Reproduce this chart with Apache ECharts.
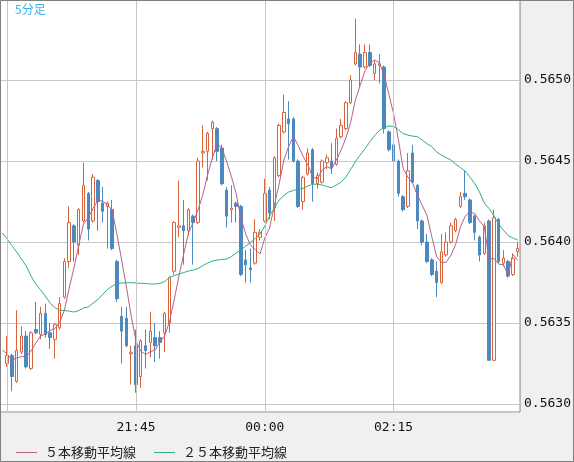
<!DOCTYPE html>
<html><head><meta charset="utf-8">
<script src="https://cdn.jsdelivr.net/npm/echarts@6/dist/echarts.min.js"></script>
<style>html,body{margin:0;padding:0;background:#f0f0f0}#c{width:574px;height:462px}</style>
</head><body><div id="c"></div>
<script>
// ---- categories (5-minute bars starting 19:25) ----
const startMinutes = 19 * 60 + 25;
const barCount = 109;
const times = [];
for (let i = 0; i < barCount; i++) {
  const m = (startMinutes + i * 5) % 1440;
  times.push(String(Math.floor(m / 60)).padStart(2, '0') + ':' + String(m % 60).padStart(2, '0'));
}
const xLabels = ['21:45', '00:00', '02:15'];
const xGridTimes = ['19:30', '21:45', '00:00', '02:15'];
const yTicks = [0.5630, 0.5635, 0.5640, 0.5645, 0.5650];

// ---- candle values (index 0 has no visible candle) ----
const opens = [null,
0.56325,0.56330,0.56314,0.56332,0.56342,0.56322,0.56346,0.56343,0.56356,0.56344,
0.56340,0.56347,0.56366,0.56388,0.56410,0.56398,0.56413,0.56430,0.56413,0.56438,
0.56424,0.56422,0.56420,0.56388,0.56354,0.56353,0.56331,0.56336,0.56317,0.56336,
0.56338,0.56341,0.56341,0.56344,0.56350,0.56382,0.56409,0.56410,0.56407,0.56416,
0.56412,0.56455,0.56456,0.56470,0.56470,0.56458,0.56432,0.56420,0.56424,0.56422,
0.56389,0.56384,0.56387,0.56403,0.56413,0.56432,0.56421,0.56441,0.56468,0.56476,
0.56476,0.56450,0.56425,0.56442,0.56457,0.56436,0.56437,0.56449,0.56450,0.56448,
0.56465,0.56470,0.56486,0.56510,0.56516,0.56508,0.56517,0.56504,0.56509,0.56508,
0.56468,0.56460,0.56450,0.56428,0.56422,0.56455,0.56435,0.56413,0.56400,0.56389,
0.56382,0.56375,0.56392,0.56400,0.56407,0.56422,0.56430,0.56426,0.56416,0.56403,
0.56393,0.56413,0.56327,0.56414,0.56387,0.56388,0.56380,0.56394];
const closes = [null,
0.56330,0.56317,0.56333,0.56342,0.56323,0.56344,0.56344,0.56356,0.56343,0.56341,
0.56349,0.56362,0.56388,0.56412,0.56400,0.56420,0.56435,0.56408,0.56440,0.56425,
0.56419,0.56424,0.56396,0.56365,0.56345,0.56336,0.56332,0.56312,0.56339,0.56333,
0.56345,0.56336,0.56338,0.56356,0.56378,0.56412,0.56410,0.56407,0.56420,0.56412,
0.56450,0.56456,0.56467,0.56474,0.56456,0.56436,0.56416,0.56421,0.56422,0.56380,
0.56386,0.56383,0.56406,0.56406,0.56430,0.56418,0.56452,0.56472,0.56480,0.56473,
0.56450,0.56422,0.56440,0.56455,0.56436,0.56441,0.56450,0.56452,0.56446,0.56464,
0.56472,0.56486,0.56500,0.56517,0.56508,0.56517,0.56509,0.56510,0.56510,0.56470,
0.56457,0.56450,0.56430,0.56420,0.56444,0.56437,0.56413,0.56400,0.56388,0.56380,
0.56375,0.56394,0.56400,0.56410,0.56414,0.56428,0.56428,0.56412,0.56406,0.56392,
0.56410,0.56327,0.56415,0.56388,0.56390,0.56379,0.56390,0.56396];
const lows = [null,
0.56323,0.56308,0.56313,0.56331,0.56322,0.56321,0.56343,0.56340,0.56341,0.56334,
0.56328,0.56346,0.56365,0.56384,0.56388,0.56392,0.56412,0.56401,0.56412,0.56407,
0.56412,0.56396,0.56395,0.56363,0.56325,0.56335,0.56312,0.56307,0.56310,0.56322,
0.56329,0.56326,0.56328,0.56332,0.56344,0.56380,0.56403,0.56386,0.56404,0.56386,
0.56411,0.56446,0.56438,0.56451,0.56450,0.56435,0.56409,0.56412,0.56412,0.56379,
0.56375,0.56375,0.56386,0.56401,0.56412,0.56414,0.56413,0.56440,0.56467,0.56451,
0.56449,0.56421,0.56420,0.56441,0.56425,0.56433,0.56436,0.56445,0.56442,0.56447,
0.56464,0.56469,0.56485,0.56509,0.56496,0.56507,0.56508,0.56500,0.56498,0.56467,
0.56456,0.56449,0.56428,0.56419,0.56421,0.56436,0.56408,0.56398,0.56387,0.56379,
0.56366,0.56374,0.56391,0.56399,0.56406,0.56421,0.56426,0.56411,0.56401,0.56388,
0.56392,0.56327,0.56327,0.56387,0.56385,0.56378,0.56379,0.56391];
const highs = [null,
0.56342,0.56331,0.56358,0.56348,0.56345,0.56345,0.56363,0.56360,0.56362,0.56350,
0.56350,0.56366,0.56390,0.56422,0.56411,0.56421,0.56449,0.56431,0.56442,0.56439,
0.56434,0.56425,0.56426,0.56389,0.56360,0.56360,0.56336,0.56346,0.56340,0.56346,
0.56357,0.56350,0.56345,0.56357,0.56379,0.56413,0.56438,0.56426,0.56421,0.56417,
0.56452,0.56472,0.56468,0.56475,0.56471,0.56460,0.56434,0.56435,0.56425,0.56423,
0.56395,0.56396,0.56414,0.56408,0.56439,0.56434,0.56453,0.56473,0.56491,0.56487,
0.56477,0.56451,0.56441,0.56458,0.56458,0.56443,0.56451,0.56454,0.56461,0.56470,
0.56476,0.56487,0.56503,0.56538,0.56522,0.56522,0.56522,0.56512,0.56516,0.56509,
0.56469,0.56461,0.56451,0.56429,0.56455,0.56460,0.56436,0.56414,0.56405,0.56390,
0.56388,0.56405,0.56406,0.56412,0.56415,0.56431,0.56444,0.56427,0.56417,0.56404,
0.56412,0.56414,0.56420,0.56415,0.56395,0.56389,0.56393,0.56400];

// ---- moving averages ----
const ma5 = [
0.563333,0.563309,0.563272,0.563284,0.563293,0.563293,0.563327,0.563377,0.563420,0.563432,
0.563454,0.563466,0.563503,0.563580,0.563716,0.563840,0.563981,0.564111,0.564151,0.564207,
0.564256,0.564253,0.564231,0.564198,0.564049,0.563889,0.563722,0.563543,0.563389,0.563327,
0.563306,0.563323,0.563333,0.563383,0.563420,0.563506,0.563642,0.563790,0.563926,0.564056,
0.564123,0.564198,0.564290,0.564414,0.564519,0.564605,0.564580,0.564497,0.564404,0.564299,
0.564148,0.564049,0.563981,0.563954,0.563926,0.564025,0.564086,0.564225,0.564358,0.564506,
0.564590,0.564651,0.564596,0.564531,0.564478,0.564404,0.564389,0.564444,0.564466,0.564451,
0.564506,0.564568,0.564642,0.564738,0.564879,0.564967,0.565057,0.565103,0.565123,0.565108,
0.565033,0.564912,0.564792,0.564633,0.564454,0.564401,0.564362,0.564288,0.564227,0.564163,
0.564033,0.563911,0.563874,0.563875,0.563918,0.563986,0.564092,0.564160,0.564185,0.564176,
0.564131,0.564095,0.563894,0.563899,0.563864,0.563860,0.563798,0.563924,0.563888];
const ma25 = [
0.564056,0.564019,0.563978,0.563938,0.563895,0.563852,0.563790,0.563741,0.563704,0.563667,
0.563623,0.563596,0.563580,0.563577,0.563574,0.563568,0.563577,0.563593,0.563599,0.563623,
0.563645,0.563676,0.563707,0.563728,0.563744,0.563747,0.563749,0.563749,0.563747,0.563745,
0.563744,0.563741,0.563741,0.563744,0.563756,0.563781,0.563793,0.563802,0.563812,0.563821,
0.563827,0.563836,0.563855,0.563870,0.563883,0.563889,0.563893,0.563895,0.563910,0.563932,
0.563951,0.563975,0.563997,0.564022,0.564049,0.564099,0.564160,0.564210,0.564259,0.564287,
0.564309,0.564318,0.564327,0.564331,0.564346,0.564356,0.564358,0.564352,0.564343,0.564335,
0.564352,0.564370,0.564401,0.564448,0.564497,0.564537,0.564577,0.564617,0.564657,0.564688,
0.564707,0.564716,0.564713,0.564694,0.564670,0.564660,0.564654,0.564650,0.564630,0.564607,
0.564590,0.564556,0.564537,0.564522,0.564506,0.564481,0.564460,0.564438,0.564401,0.564361,
0.564309,0.564241,0.564207,0.564164,0.564111,0.564074,0.564040,0.564025,0.564012];

const yMin = 0.562951;
const yMax = 0.565494;

const candleData = opens.map((o, i) => o === null ? ['-', '-', '-', '-'] : [o, closes[i], lows[i], highs[i]]);

const chart = echarts.init(document.getElementById('c'), null, { renderer: 'canvas' });
const mono = 'DejaVu Sans Mono';
const cjk = '"Noto Sans CJK JP", "Noto Sans", sans-serif';
chart.setOption({
  animation: false,
  backgroundColor: '#f0f0f0',
  title: {
    text: '5分足', left: 15, top: 3, padding: 0,
    textStyle: { color: '#35b4ee', fontSize: 12, fontWeight: 'normal', fontFamily: cjk }
  },
  legend: {
    left: 16, top: 446, padding: 0, itemWidth: 21, itemHeight: 1, itemGap: 18, icon: 'rect',
    textStyle: { fontSize: 13, color: '#222', fontFamily: cjk, padding: [0, 0, 0, 3] },
    data: ['５本移動平均線', '２５本移動平均線']
  },
  grid: { left: 0, top: 0, width: 522, height: 412, show: true, backgroundColor: '#ffffff', borderColor: '#858585', borderWidth: 1 },
  xAxis: {
    type: 'category', data: times, boundaryGap: true,
    axisLine: { show: false }, axisTick: { show: false }, splitLine: { show: false },
    axisLabel: { interval: (i, v) => xLabels.includes(v), margin: 9, color: '#111', fontFamily: mono, fontSize: 13 }
  },
  yAxis: {
    type: 'value', position: 'right', min: yMin, max: yMax, splitNumber: 5,
    axisLine: { show: false }, axisTick: { show: false },
    splitLine: { show: true, lineStyle: { color: '#c8c8c8', width: 1 } },
    axisLabel: {
      show: true, margin: 4, color: '#111', fontFamily: mono, fontSize: 13,
      showMinLabel: false, showMaxLabel: false,
      formatter: v => (yTicks.some(t => Math.abs(t - v) < 1e-7) ? v.toFixed(4) : '')
    }
  },
  graphic: [{
    type: 'rect', x: 0, y: 0, silent: true, z: 100,
    shape: { x: 0.5, y: 0.5, width: 573, height: 461 },
    style: { fill: 'none', stroke: '#808080', lineWidth: 1 }
  }],
  series: [
    {
      type: 'line', name: 'grid', data: ma25, z: 1, silent: true, symbol: 'none',
      lineStyle: { opacity: 0 },
      markLine: {
        silent: true, symbol: ['none', 'none'], animation: false,
        lineStyle: { color: '#c8c8c8', type: 'solid', width: 1 },
        label: { show: false },
        data: xGridTimes.map(t => ({ xAxis: t }))
      }
    },
    {
      type: 'candlestick', name: 'candle', data: candleData, barWidth: 3, z: 2,
      itemStyle: { color: '#ffffff', color0: '#4b89bf', borderColor: '#d9643c', borderColor0: '#4b89bf', borderWidth: 1 }
    },
    {
      type: 'line', name: '５本移動平均線', data: ma5, symbol: 'none', z: 3,
      color: '#b4618e', lineStyle: { width: 1, color: '#b4618e' }
    },
    {
      type: 'line', name: '２５本移動平均線', data: ma25, symbol: 'none', z: 3,
      color: '#2fb07a', lineStyle: { width: 1, color: '#2fb07a' }
    }
  ]
});
</script>
</body></html>
